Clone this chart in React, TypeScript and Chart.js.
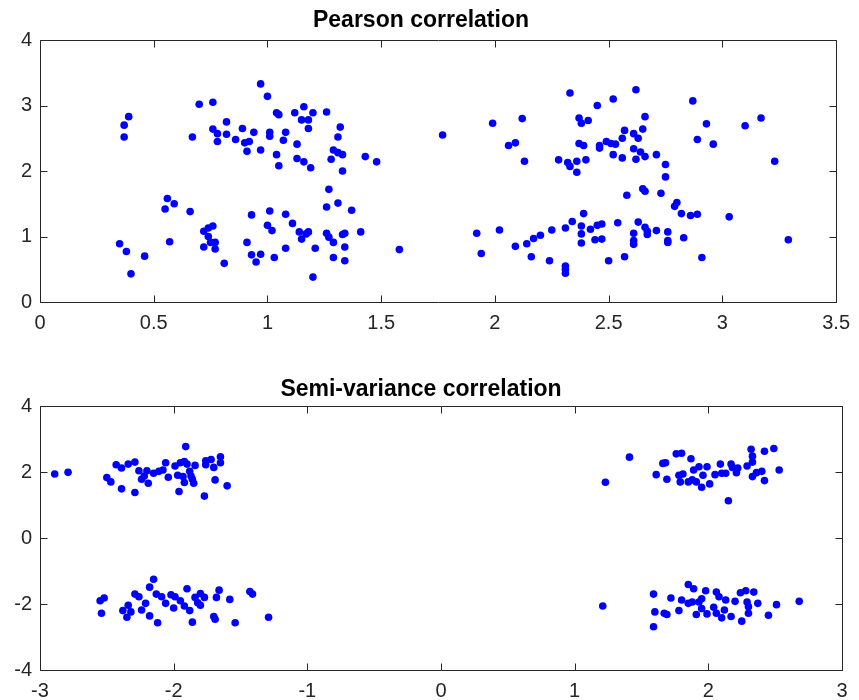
import React, { useEffect, useRef } from "react";
import { Chart, registerables } from "chart.js";

Chart.register(...registerables);

// ---------------- Data ----------------
const pearsonTitle = "Pearson correlation";
const semiTitle = "Semi-variance correlation";

const pearsonX = [
  0.39, 0.37, 0.37, 0.70, 0.76, 0.82, 0.76, 0.78, 0.82, 0.78, 0.67, 0.56, 0.59, 0.55, 0.66,
  0.35, 0.38, 0.40, 0.46, 0.57, 0.76, 0.74, 0.72, 0.74, 0.77, 0.75, 0.72, 0.77, 0.81,
  0.97, 1.00, 0.86, 0.89, 0.94, 0.90, 0.92, 0.91, 0.97, 1.01, 1.01, 1.04, 1.05, 1.04, 1.05,
  1.08, 1.07, 1.12, 1.16, 1.15, 1.18, 1.20, 1.18, 1.13, 1.13, 1.16, 1.19, 1.26, 1.32, 1.31,
  1.29, 1.31, 1.33, 1.28, 1.33, 1.43, 1.48, 1.27, 1.26, 1.31, 1.37, 1.41, 1.34, 1.33, 1.26,
  1.27, 1.29, 1.34, 1.29, 1.34, 1.21, 1.20, 0.93, 1.01, 1.08, 1.11, 1.00, 1.02, 1.14, 1.17,
  1.18, 1.15, 0.91, 0.93, 0.97, 0.95, 1.03, 1.08, 1.58,
  1.77, 1.99, 2.12, 2.06, 2.09, 2.13, 2.33, 2.45, 2.52, 2.37, 2.38, 2.41, 2.37, 2.39, 2.46,
  2.46, 2.49, 2.51, 2.53, 2.56, 2.57, 2.52, 2.56, 2.28, 2.32, 2.33, 2.36, 2.36, 2.40, 2.58,
  2.39, 2.34, 2.38, 2.38, 2.38, 2.42, 2.45, 2.47, 2.44, 2.47, 2.54, 2.31, 2.25, 2.20, 2.17,
  2.14, 2.09, 2.02, 1.92, 1.94, 2.16, 2.24, 2.31, 2.31, 2.31, 2.50, 2.57,
  2.62, 2.87, 2.66, 2.93, 3.10, 3.17, 2.61, 2.63, 2.65, 2.89, 2.96, 2.61, 2.64, 2.66, 2.62,
  2.71, 2.75, 2.75, 3.23, 2.65, 2.66, 2.73, 2.80, 2.79, 2.82, 2.86, 2.89, 3.03, 2.63, 2.66,
  2.67, 2.67, 2.61, 2.61, 2.61, 2.71, 2.76, 2.76, 2.76, 2.83, 2.91, 3.29,
];
const pearsonY = [
  2.83, 2.70, 2.52, 3.02, 3.05, 2.75, 2.64, 2.57, 2.56, 2.45, 2.52, 1.58, 1.50, 1.42, 1.38,
  0.89, 0.77, 0.43, 0.70, 0.92, 1.16, 1.13, 1.08, 1.00, 0.91, 0.91, 0.84, 0.81, 0.59,
  3.33, 3.14, 2.48, 2.65, 2.59, 2.43, 2.45, 2.30, 2.32, 2.59, 2.53, 2.25, 2.08, 2.89, 2.86,
  2.59, 2.47, 2.89, 2.98, 2.78, 2.78, 2.89, 2.65, 2.41, 2.19, 2.14, 2.05, 2.90, 2.67, 2.52,
  2.32, 2.28, 2.25, 2.18, 2.00, 2.22, 2.14, 1.72, 1.45, 1.51, 1.40, 1.07, 1.05, 1.03, 1.05,
  0.99, 0.91, 0.84, 0.68, 0.63, 0.82, 0.38, 1.33, 1.39, 1.34, 1.20, 1.17, 1.09, 1.07, 1.04,
  1.07, 0.96, 0.91, 0.72, 0.73, 0.61, 0.68, 0.82, 0.80,
  2.55, 2.73, 2.80, 2.39, 2.43, 2.15, 3.19, 3.00, 3.10, 2.81, 2.73, 2.77, 2.42, 2.39, 2.39,
  2.35, 2.45, 2.42, 2.41, 2.50, 2.62, 2.25, 2.20, 2.17, 2.13, 2.07, 2.15, 1.98, 2.17, 1.63,
  1.35, 1.23, 1.16, 1.04, 0.90, 1.11, 1.17, 1.19, 0.95, 0.96, 1.21, 1.13, 1.10, 1.02, 0.97,
  0.89, 0.85, 1.10, 1.05, 0.74, 0.69, 0.63, 0.55, 0.50, 0.44, 0.63, 0.69,
  3.24, 3.07, 2.83, 2.72, 2.69, 2.81, 2.57, 2.50, 2.64, 2.48, 2.41, 2.34, 2.29, 2.22, 2.18,
  2.25, 2.10, 1.91, 2.15, 1.73, 1.69, 1.66, 1.52, 1.46, 1.35, 1.32, 1.34, 1.30, 1.22, 1.14,
  1.08, 1.03, 1.05, 0.94, 0.88, 1.09, 1.07, 0.94, 0.91, 0.98, 0.68, 0.95,
];

const semiX = [
  // upper-left cluster
  -2.89, -2.79, -2.50, -2.47, -2.39, -2.29, -2.43, -2.39, -2.34, -2.29, -2.26, -2.24, -2.22,
  -2.19, -2.20, -2.15, -2.11, -2.08, -2.06, -2.04, -1.99, -1.95, -1.92, -1.91, -1.97, -1.93,
  -1.92, -1.96, -1.88, -1.87, -1.86, -1.85, -1.84, -1.90, -1.77, -1.76, -1.76, -1.72, -1.70,
  -1.65, -1.65, -1.69, -1.60,
  // lower-left cluster
  -2.55, -2.52, -2.54, -2.38, -2.34, -2.32, -2.35, -2.29, -2.26, -2.24, -2.21, -2.18, -2.18,
  -2.15, -2.12, -2.13, -2.09, -2.06, -2.02, -1.99, -2.00, -1.95, -1.92, -1.90, -1.88, -1.86,
  -1.84, -1.82, -1.80, -1.80, -1.77, -1.70, -1.69, -1.68, -1.66, -1.58, -1.54, -1.43, -1.41,
  -1.29,
  // upper-right cluster
  1.23, 1.41, 1.61, 1.69, 1.66, 1.68, 1.76, 1.80, 1.87, 1.78, 1.79, 1.81, 1.85, 1.88, 1.89,
  1.93, 1.91, 1.95, 1.96, 1.99, 2.01, 2.05, 2.09, 2.10, 2.13, 2.15, 2.17, 2.18, 2.21, 2.22,
  2.29, 2.32, 2.33, 2.33, 2.33, 2.36, 2.40, 2.42, 2.42, 2.49, 2.53,
  // lower-right cluster
  1.21, 1.59, 1.60, 1.59, 1.67, 1.69, 1.72, 1.78, 1.80, 1.85, 1.89, 1.85, 1.88, 1.91, 1.93,
  1.95, 1.98, 1.95, 1.99, 2.04, 2.06, 2.08, 2.06, 2.10, 2.12, 2.13, 2.17, 2.20, 2.24, 2.28,
  2.34, 2.29, 2.30, 2.30, 2.25, 2.37, 2.45, 2.51, 2.68,
];
const semiY = [
  1.94, 1.99, 1.83, 1.70, 1.49, 1.38, 2.22, 2.12, 2.24, 2.30, 2.04, 1.78, 1.88,
  1.66, 2.04, 1.96, 2.02, 2.06, 2.28, 1.84, 2.18, 2.28, 2.32, 2.77, 1.90, 1.86,
  1.68, 1.41, 2.02, 1.88, 1.78, 1.66, 2.20, 2.24, 1.27, 2.34, 2.22, 2.38, 2.14,
  2.46, 2.28, 1.76, 1.58,
  -1.90, -1.82, -2.28, -2.20, -2.04, -2.24, -2.40, -1.70, -1.78, -2.18, -1.98, -2.36, -1.49,
  -1.25, -2.57, -1.70, -1.78, -1.98, -1.72, -1.78, -2.12, -1.90, -2.06, -1.54, -2.20, -2.55,
  -1.80, -1.96, -1.68, -2.04, -1.80, -2.38, -2.46, -1.80, -1.58, -1.86, -2.57, -1.62, -1.70,
  -2.40,
  1.69, 2.45, 1.92, 1.78, 2.26, 2.28, 2.55, 2.57, 2.40, 1.90, 1.70, 1.94, 1.70, 1.76, 2.06,
  2.16, 1.70, 1.54, 1.90, 2.16, 1.64, 1.92, 2.24, 1.96, 1.96, 1.13, 2.24, 2.14, 1.98, 2.12,
  2.18, 2.69, 2.48, 2.30, 1.86, 1.98, 2.02, 2.63, 1.74, 2.71, 2.06,
  -2.06, -1.70, -2.24, -2.69, -2.28, -2.32, -1.82, -2.20, -1.88, -1.41, -1.54, -1.98, -1.94,
  -2.32, -1.94, -1.84, -1.60, -2.14, -2.30, -2.10, -1.64, -1.78, -2.28, -2.42, -2.18, -1.88,
  -2.38, -1.92, -1.66, -1.60, -1.64, -1.94, -2.08, -2.28, -2.52, -1.98, -2.34, -2.02, -1.92,
];

const pearsonXTicks = { min: 0, max: 3.5, step: 0.5 };
const pearsonYTicks = { min: 0, max: 4, step: 1 };
const semiXTicks = { min: -3, max: 3, step: 1 };
const semiYTicks = { min: -4, max: 4, step: 2 };

// ---------------- Styling ----------------
const FONT = "'Liberation Sans', Arial, Helvetica, sans-serif";
const AXIS_COLOR = "#262626";
const POINT_COLOR = "#0000ff";
const W = 859;
const H = 350;

const fmt = (v: any) => String(Math.round(Number(v) * 100) / 100);

const framePlugin = {
  id: "matlabFrame",
  beforeDatasetsDraw(chart: any) {
    const { ctx, chartArea } = chart;
    const xs = chart.scales.x;
    const ys = chart.scales.y;
    const left = Math.round(chartArea.left) + 0.5;
    const right = Math.round(chartArea.right) + 0.5;
    const top = Math.round(chartArea.top) + 0.5;
    const bottom = Math.round(chartArea.bottom) + 0.5;
    const L = 7;
    ctx.save();
    ctx.strokeStyle = AXIS_COLOR;
    ctx.lineWidth = 1;
    ctx.beginPath();
    ctx.moveTo(left, top);
    ctx.lineTo(right, top);
    ctx.lineTo(right, bottom);
    ctx.lineTo(left, bottom);
    ctx.closePath();
    xs.ticks.forEach((_t: any, i: number) => {
      const px = Math.round(xs.getPixelForTick(i)) + 0.5;
      ctx.moveTo(px, bottom);
      ctx.lineTo(px, bottom - L);
      ctx.moveTo(px, top);
      ctx.lineTo(px, top + L);
    });
    ys.ticks.forEach((_t: any, i: number) => {
      const py = Math.round(ys.getPixelForTick(i)) + 0.5;
      ctx.moveTo(left, py);
      ctx.lineTo(left + L, py);
      ctx.moveTo(right, py);
      ctx.lineTo(right - L, py);
    });
    ctx.stroke();
    ctx.restore();
  },
};

function makeConfig(
  title: string,
  xv: number[],
  yv: number[],
  xt: { min: number; max: number; step: number },
  yt: { min: number; max: number; step: number },
  padTop: number,
  titleTop: number,
  titleBottom: number,
  xAxisH: number
): any {
  const data = xv.map((x, i) => ({ x, y: yv[i] }));
  return {
    type: "scatter",
    data: {
      datasets: [
        {
          data,
          backgroundColor: POINT_COLOR,
          borderWidth: 0,
          pointRadius: 3.8,
          pointHoverRadius: 3.8,
        },
      ],
    },
    plugins: [framePlugin],
    options: {
      animation: false,
      responsive: false,
      devicePixelRatio: 1,
      events: [],
      layout: { padding: { top: padTop, left: 0, right: 17, bottom: 0 } },
      plugins: {
        legend: { display: false },
        tooltip: { enabled: false },
        title: {
          display: true,
          text: title,
          color: "#000000",
          font: { family: FONT, size: 23, weight: "bold", lineHeight: 1.2 },
          padding: { top: titleTop, bottom: titleBottom },
        },
      },
      scales: {
        x: {
          type: "linear",
          min: xt.min,
          max: xt.max,
          afterFit: (s: any) => {
            s.height = xAxisH;
          },
          grid: { display: false, drawTicks: false },
          border: { display: false },
          ticks: {
            stepSize: xt.step,
            color: AXIS_COLOR,
            font: { family: FONT, size: 20 },
            padding: 9,
            maxRotation: 0,
            autoSkip: false,
            callback: fmt,
          },
        },
        y: {
          type: "linear",
          min: yt.min,
          max: yt.max,
          afterFit: (s: any) => {
            s.width = 40;
          },
          grid: { display: false, drawTicks: false },
          border: { display: false },
          ticks: {
            stepSize: yt.step,
            color: AXIS_COLOR,
            font: { family: FONT, size: 20 },
            padding: 8,
            autoSkip: false,
            callback: fmt,
          },
        },
      },
    },
  };
}

function ScatterPanel(props: { cfg: () => any }) {
  const ref = useRef<HTMLCanvasElement | null>(null);
  useEffect(() => {
    if (!ref.current) return;
    const chart = new Chart(ref.current, props.cfg());
    return () => chart.destroy();
  }, []);
  return <canvas ref={ref} width={W} height={H} style={{ display: "block", width: W, height: H }} />;
}

export default function App() {
  return (
    <div
      style={{
        position: "absolute",
        left: 0,
        top: 0,
        width: W,
        height: 700,
        background: "#ffffff",
      }}
    >
      <ScatterPanel
        cfg={() =>
          makeConfig(pearsonTitle, pearsonX, pearsonY, pearsonXTicks, pearsonYTicks, 0, 7, 5.4, 48)
        }
      />
      <ScatterPanel
        cfg={() =>
          makeConfig(semiTitle, semiX, semiY, semiXTicks, semiYTicks, 0, 26, 2.4, 30)
        }
      />
    </div>
  );
}
